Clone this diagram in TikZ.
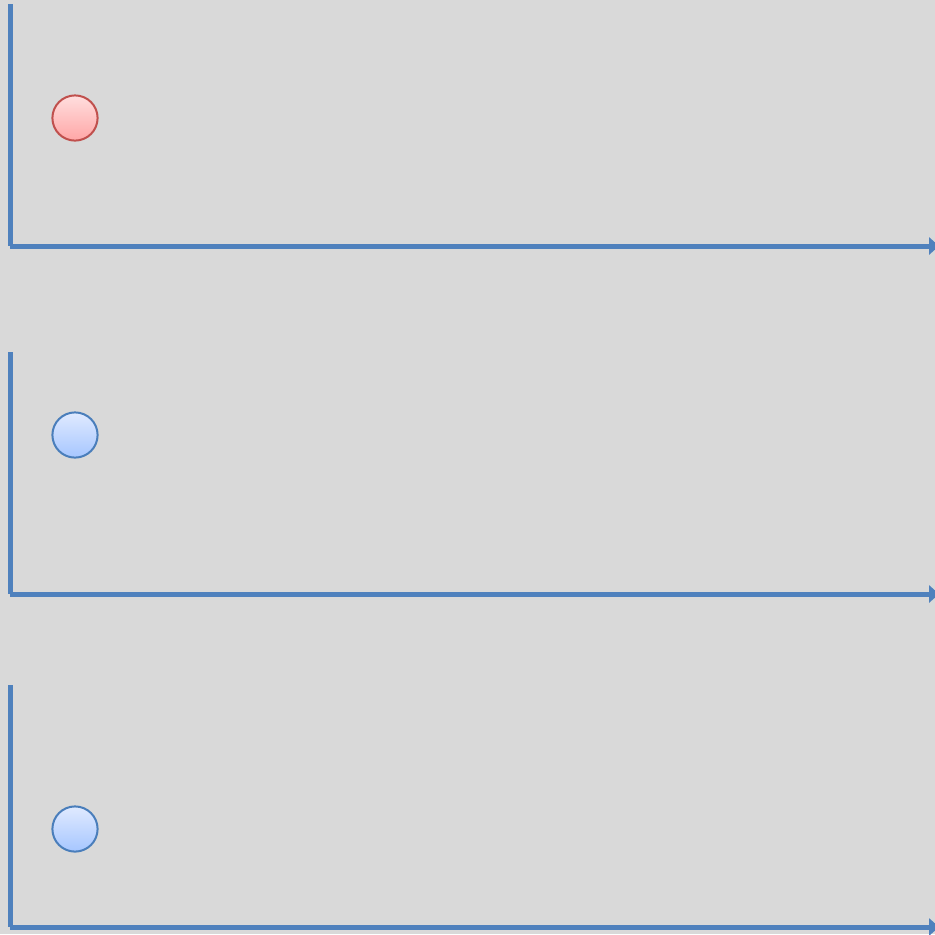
\documentclass[tikz,border=0pt]{standalone}
\usetikzlibrary{arrows.meta}

\definecolor{axisblue}{RGB}{79,129,189}
\definecolor{panelgray}{RGB}{217,217,217}
\definecolor{redline}{RGB}{192,80,77}
\definecolor{blueline}{RGB}{74,126,187}
\definecolor{redtop}{RGB}{255,222,222}
\definecolor{redbot}{RGB}{255,166,166}
\definecolor{bluetop}{RGB}{224,234,255}
\definecolor{bluebot}{RGB}{166,198,255}

\tikzset{
	axis/.style={line width=1.25mm, axisblue},
	redball/.style={circle, draw=redline, line width=0.5mm, minimum size=11.3mm, inner sep=0pt, top color=redtop, bottom color=redbot},
	blueball/.style={circle, draw=blueline, line width=0.5mm, minimum size=11.3mm, inner sep=0pt, top color=bluetop, bottom color=bluebot}
}

\begin{document}
\begin{tikzpicture}[x=0.25mm, y=-0.25mm, >={Triangle[length=2.5mm, width=4.3mm]}]
	\fill[panelgray] (0,0) rectangle (935,934);
	\useasboundingbox (0,0) rectangle (935,934);
	\clip (0,0) rectangle (935,934);
	% top panel
	\coordinate (t1) at (10,4);
	\coordinate (o1) at (10,246);
	\coordinate (e1) at (939,246);
	\draw[axis] (t1) -- (o1);
	\draw[axis, ->] (o1) -- (e1);
	\node[redball] (b1) at (75,118) {};
	% middle panel
	\coordinate (t2) at (10,352);
	\coordinate (o2) at (10,594);
	\coordinate (e2) at (939,594);
	\draw[axis] (t2) -- (o2);
	\draw[axis, ->] (o2) -- (e2);
	\node[blueball] (b2) at (75,435) {};
	% bottom panel
	\coordinate (t3) at (10,685);
	\coordinate (o3) at (10,927);
	\coordinate (e3) at (939,927);
	\draw[axis] (t3) -- (o3);
	\draw[axis, ->] (o3) -- (e3);
	\node[blueball] (b3) at (75,829) {};
\end{tikzpicture}
\end{document}
